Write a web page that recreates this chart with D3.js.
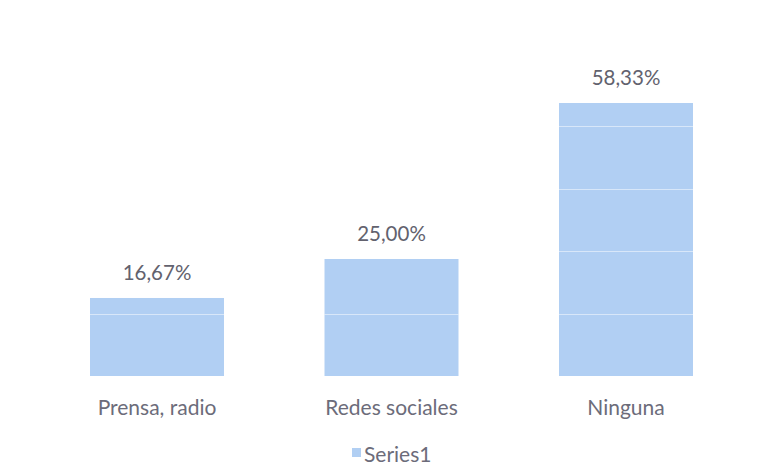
<!DOCTYPE html>
<html>
<head>
<meta charset="utf-8">
<script src="https://cdn.jsdelivr.net/npm/d3@7"></script>
<style>
  body { margin: 0; background: #fff; }
  svg text { font-family: Lato, "Open Sans", sans-serif; fill: #62626e; }
</style>
</head>
<body>
<svg id="chart" width="769" height="467"></svg>
<script>
// data
var categories = ['Prensa, radio', 'Redes sociales', 'Ninguna'];
var values = [0.1667, 0.25, 0.5833];
var valueLabels = ['16,67%', '25,00%', '58,33%'];
var gridValues = [0.1333, 0.2667, 0.4, 0.5333];
var seriesName = 'Series1';

var svg = d3.select('#chart'),
  barColor = '#b1cff3',
  baseY = 376,
  topY = 103;

var x = d3.scaleBand()
  .domain(categories)
  .range([39.75, 743.25])
  .paddingInner(0.4286)
  .paddingOuter(0.2143);

var y = d3.scaleLinear()
  .domain([0, 0.5833])
  .range([baseY, topY]);

var rows = categories.map(function (c, i) {
  return { cat: c, value: values[i], label: valueLabels[i] };
});

// bars
var g = svg.append('g');
g.selectAll('rect.bar')
  .data(rows)
  .enter()
  .append('rect')
  .attr('class', 'bar')
  .attr('x', function (d) { return x(d.cat); })
  .attr('y', function (d) { return y(d.value); })
  .attr('width', x.bandwidth())
  .attr('height', function (d) { return baseY - y(d.value); })
  .attr('fill', barColor);

// faint gridlines show only across the bars
rows.forEach(function (d) {
  g.selectAll(null)
    .data(gridValues.filter(function (v) { return v < d.value; }))
    .enter()
    .append('line')
    .attr('x1', x(d.cat))
    .attr('x2', x(d.cat) + x.bandwidth())
    .attr('y1', function (v) { return Math.round(y(v)) + 0.5; })
    .attr('y2', function (v) { return Math.round(y(v)) + 0.5; })
    .attr('stroke', '#ffffff')
    .attr('stroke-opacity', 0.5)
    .attr('stroke-width', 1);
});

// value labels
g.selectAll('text.val')
  .data(rows)
  .enter()
  .append('text')
  .attr('class', 'val')
  .attr('x', function (d) { return x(d.cat) + x.bandwidth() / 2; })
  .attr('y', function (d) { return y(d.value) - 18; })
  .attr('text-anchor', 'middle')
  .style('font-size', '20.5px')
  .text(function (d) { return d.label; });

// category labels
g.selectAll('text.cat')
  .data(rows)
  .enter()
  .append('text')
  .attr('class', 'cat')
  .attr('x', function (d) { return x(d.cat) + x.bandwidth() / 2; })
  .attr('y', 415)
  .attr('text-anchor', 'middle')
  .style('font-size', '21px')
  .style('fill', '#6c6c7a')
  .text(function (d) { return d.cat; });

// legend
var leg = svg.append('g').attr('transform', 'translate(352,448)');
leg.append('rect')
  .attr('width', 9)
  .attr('height', 9)
  .attr('fill', barColor);
leg.append('text')
  .attr('x', 12)
  .attr('y', 14)
  .style('font-size', '21px')
  .style('fill', '#6c6c7a')
  .text(seriesName);
</script>
</body>
</html>
